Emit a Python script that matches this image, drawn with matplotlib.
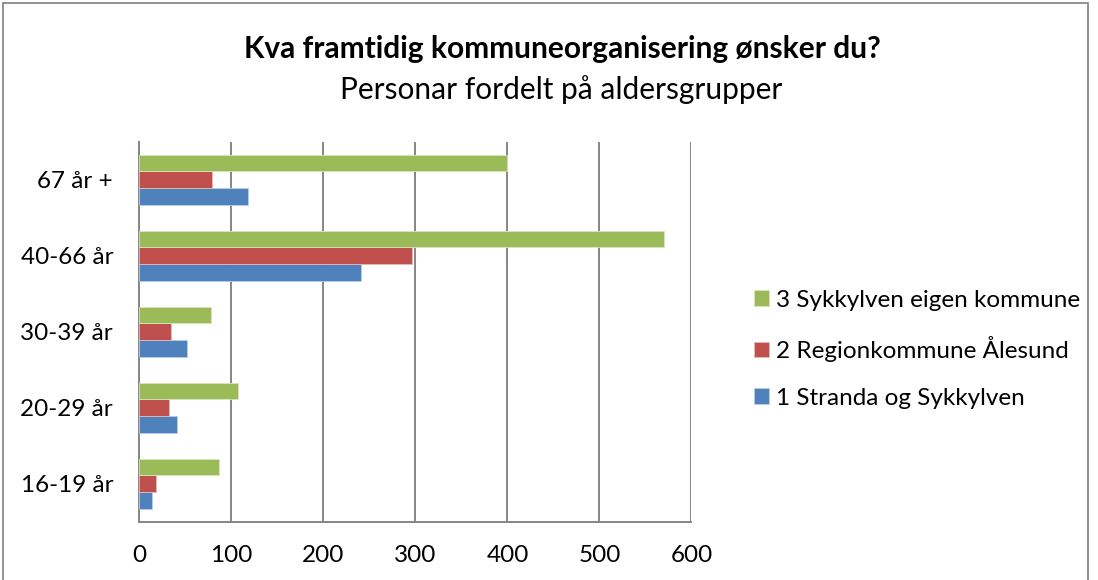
import numpy as np
import matplotlib
matplotlib.use("Agg")
from matplotlib import pyplot as plt
from matplotlib.patches import Rectangle

plt.rcParams["font.family"] = ["Lato", "DejaVu Sans"]

# ------ data (bottom to top, as on the chart)

groups = ["16-19 år", "20-29 år", "30-39 år", "40-66 år", "67 år +"]
stranda = [14, 41, 52, 241, 118]          # 1 Stranda og Sykkylven
region = [18, 32, 34, 296, 79]            # 2 Regionkommune Ålesund
eigen = [87, 107, 78, 570, 400]           # 3 Sykkylven eigen kommune
series_names = ["1 Stranda og Sykkylven", "2 Regionkommune Ålesund", "3 Sykkylven eigen kommune"]
xticks = [0, 100, 200, 300, 400, 500, 600]

# ------

fig = plt.figure(figsize=(10.98, 5.8), dpi=100)
ax = fig.add_axes([0.127, 0.1005, 0.5027, 0.655])

y = np.arange(len(groups))
h = 0.22
b1 = ax.barh(y - h, stranda, height=h, color="#4f81bd", edgecolor="#b9cde5", lw=0.6, zorder=3)
b2 = ax.barh(y, region, height=h, color="#c0504d", edgecolor="#e6b9b8", lw=0.6, zorder=3)
b3 = ax.barh(y + h, eigen, height=h, color="#9bbb59", edgecolor="#d7e4bd", lw=0.6, zorder=3)

ax.set_xlim(0, 600)
ax.set_ylim(-0.5, len(groups) - 0.5)
ax.set_xticks(xticks)
ax.set_yticks(y, groups)
ax.grid(axis="x", color="#868686", lw=1.4, zorder=0)
for s in ["top", "right"]:
    ax.spines[s].set_visible(False)
for s in ["left", "bottom"]:
    ax.spines[s].set_color("#868686")
    ax.spines[s].set_linewidth(1.4)
ax.tick_params(axis="both", length=0, labelsize=17.5)
ax.tick_params(axis="y", pad=19)
ax.tick_params(axis="x", pad=17)

fig.text(0.512, 0.915, "Kva framtidig kommuneorganisering ønsker du?",
         ha="center", va="center", fontsize=21.5, fontweight="bold")
fig.text(0.511, 0.845, "Personar fordelt på aldersgrupper",
         ha="center", va="center", fontsize=21.5)

fig.legend([b3, b2, b1], series_names[::-1], loc="center left",
           bbox_to_anchor=(0.667, 0.398), frameon=False, fontsize=17.5,
           handlelength=0.6, handleheight=0.6, handletextpad=0.3,
           labelspacing=1.05)

# chart frame
fig.patches.append(Rectangle((3 / 1098, -0.05), 1085 / 1098, 1 - 3 / 580 + 0.05,
                             transform=fig.transFigure, fill=False,
                             edgecolor="#898989", lw=1.3))

plt.savefig("out.png", dpi=100)
